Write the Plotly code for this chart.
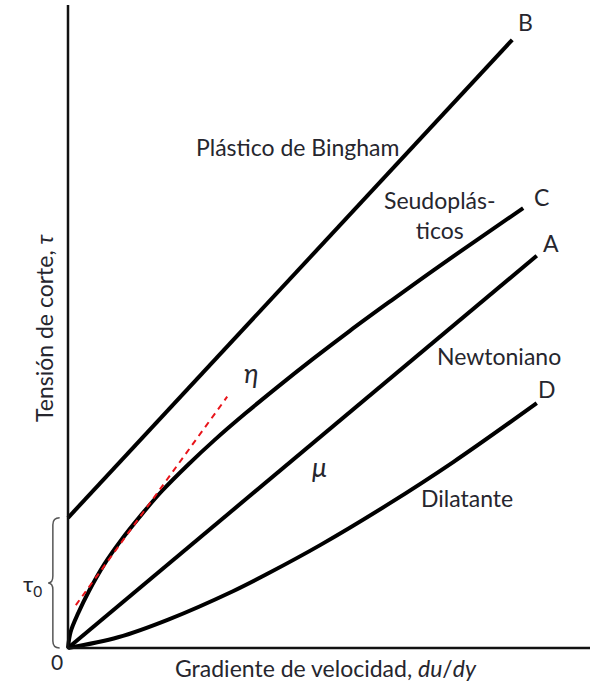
import plotly.graph_objects as go

# Flow curves: shear stress vs. velocity gradient
TAU0 = 2.43  # yield stress of the Bingham plastic

bingham_x = [0.0, 8.51]
bingham_y = [TAU0, 11.35]

newton_x = [0.0, 8.98]
newton_y = [0.0, 7.32]

pseudo_x = [0.0, 0.05, 0.20, 0.40, 0.70, 1.00, 1.40, 1.80, 2.30, 2.80, 3.40, 4.00,
            4.70, 5.40, 6.20, 7.00, 7.90, 8.72]
pseudo_y = [0.0, 0.30, 0.66, 1.06, 1.57, 1.99, 2.48, 2.93, 3.42, 3.875, 4.38, 4.86,
            5.40, 5.92, 6.49, 7.05, 7.66, 8.21]

dilat_x = [0.0, 0.96, 1.92, 3.16, 3.83, 4.83, 6.13, 7.38, 8.98]
dilat_y = [0.0, 0.20, 0.53, 1.06, 1.39, 1.92, 2.68, 3.47, 4.57]

tangent_x = [0.15, 3.05]
tangent_y = [0.80, 4.69]

X_MAX = 10.0
Y_MAX = 12.0

TEXT = "#26262e"
FONT = "Lato, 'Noto Sans', sans-serif"

fig = go.Figure()

straight = dict(color="black", width=4)
curved = dict(color="black", width=4, shape="spline", smoothing=1.0)
fig.add_trace(go.Scatter(x=bingham_x, y=bingham_y, mode="lines", line=straight))
fig.add_trace(go.Scatter(x=pseudo_x, y=pseudo_y, mode="lines", line=curved))
fig.add_trace(go.Scatter(x=newton_x, y=newton_y, mode="lines", line=straight))
fig.add_trace(go.Scatter(x=dilat_x, y=dilat_y, mode="lines", line=curved))
fig.add_trace(go.Scatter(x=tangent_x, y=tangent_y, mode="lines",
                         line=dict(color="#e8141a", width=2, dash="6px,5px")))

# axes drawn as lines through the origin
fig.add_trace(go.Scatter(x=[0, 0, X_MAX], y=[Y_MAX, 0, 0], mode="lines",
                         line=dict(color="#111", width=2.5)))

# brace marking the yield stress
bx, bt = -0.29, -0.38
r = 0.13
brace = (f"M {bx+0.13},{TAU0} Q {bx},{TAU0} {bx},{TAU0-r} "
         f"L {bx},{TAU0/2+r} Q {bx},{TAU0/2} {bt},{TAU0/2} "
         f"Q {bx},{TAU0/2} {bx},{TAU0/2-r} "
         f"L {bx},{r} Q {bx},0 {bx+0.13},0")
fig.add_shape(type="path", path=brace, xref="x", yref="y",
              line=dict(color="#555", width=1.5))


def px(p):
    return (p - 68) / 52.2


def py(p):
    return (648 - p) / 53.58


def label(x, y, text, size=23, **kw):
    fig.add_annotation(x=px(x), y=py(y), text=text, showarrow=False, xref="x", yref="y",
                       font=dict(family=FONT, size=size, color=TEXT), **kw)


label(525, 22, "B")
label(541, 197, "C")
label(551, 243, "A")
label(547, 389, "D")
label(297, 147, "Plástico de Bingham")
label(440, 215, "Seudoplás-<br>ticos", align="center")
label(499, 356, "Newtoniano")
label(467, 498, "Dilatante")
label(251, 372, "<i>η</i>", 27)
label(319, 466, "<i>μ</i>", 27)
label(32, 585, "τ<sub>0</sub>", 22)
label(57, 661, "0", 21)
label(326, 668, "Gradiente de velocidad, <i>du</i>/<i>dy</i>")
label(44, 328, "Tensión de corte, <i>τ</i>", textangle=-90)

fig.update_layout(
    width=597, height=687,
    margin=dict(l=0, r=0, t=0, b=0),
    paper_bgcolor="white", plot_bgcolor="white",
    showlegend=False,
    xaxis=dict(range=[px(0), px(597)], visible=False, fixedrange=True),
    yaxis=dict(range=[py(687), py(0)], visible=False, fixedrange=True),
)

fig.write_html("out.html")
